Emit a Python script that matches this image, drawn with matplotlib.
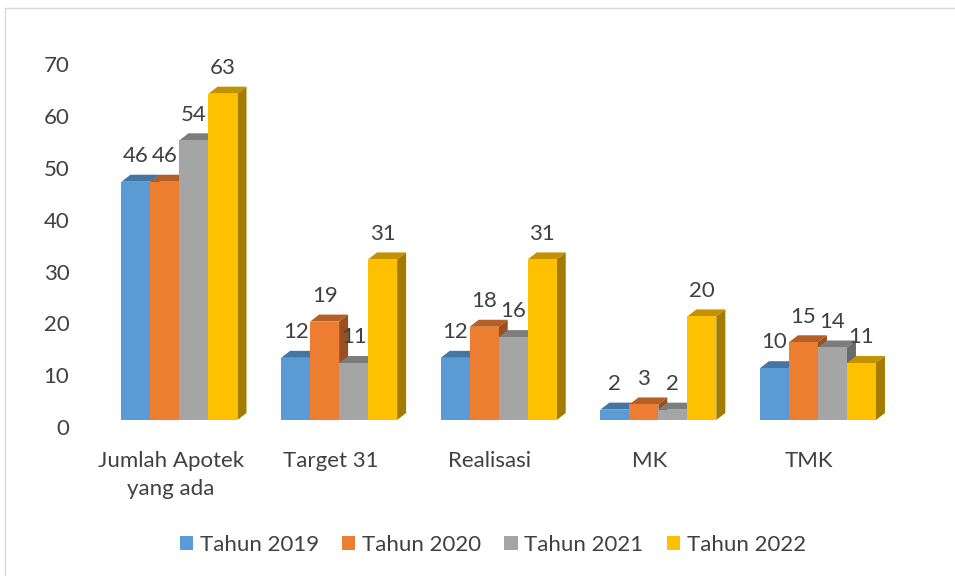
import matplotlib.pyplot as plt
import matplotlib.transforms as mtransforms
from matplotlib.patches import Polygon, Patch, Rectangle
import numpy as np

plt.rcParams['font.family'] = ['Lato', 'DejaVu Sans']

categories = ['Jumlah Apotek\nyang ada', 'Target 31', 'Realisasi', 'MK', 'TMK']
series = ['Tahun 2019', 'Tahun 2020', 'Tahun 2021', 'Tahun 2022']
tahun_2019 = [46, 12, 12, 2, 10]
tahun_2020 = [46, 19, 18, 3, 15]
tahun_2021 = [54, 11, 16, 2, 14]
tahun_2022 = [63, 31, 31, 20, 11]
values = [tahun_2019, tahun_2020, tahun_2021, tahun_2022]
colors = ['#5B9BD5', '#ED7D31', '#A5A5A5', '#FFC000']
text_color = '#404040'


def shade(c, f):
    r, g, b = [int(c[i:i + 2], 16) / 255 for i in (1, 3, 5)]
    return (r * f, g * f, b * f)


W, H = 955, 576
fig = plt.figure(figsize=(W / 100, H / 100), dpi=100)
# axes placed so the front faces of the bars sit on the baseline
ax = fig.add_axes([100 / W, (H - 420) / H, 800 / W, 362.6 / H])
ax.set_xlim(-0.498, 4.514)
ax.set_ylim(0, 70)

bw = 0.1817          # bar width (group units)
ddx = 9 / 159.6      # depth offset in x
ddy = 7 / 5.18       # depth offset in y

for i in range(len(categories)):
    for s in range(len(series)):
        v = values[s][i]
        x0 = i + (s - 2) * bw
        x1 = x0 + bw
        c = colors[s]
        top = Polygon([(x0, v), (x1, v), (x1 + ddx, v + ddy), (x0 + ddx, v + ddy)],
                      closed=True, facecolor=shade(c, 0.76), edgecolor='none', zorder=2)
        side = Polygon([(x1, 0), (x1 + ddx, ddy), (x1 + ddx, v + ddy), (x1, v)],
                       closed=True, facecolor=shade(c, 0.64), edgecolor='none', zorder=2)
        front = Rectangle((x0, 0), bw, v, facecolor=c, edgecolor='none', zorder=2)
        ax.add_patch(top)
        ax.add_patch(side)
        ax.add_patch(front)
        ax.annotate(str(v), xy=(x0 + bw / 2, v + ddy), xytext=(0, 13.5),
                    textcoords='offset points', ha='center', va='center',
                    fontsize=16, color=text_color, zorder=3)
    ax.text(i - 0.055, -5.9, categories[i], ha='center', va='top', fontsize=16,
            color=text_color, linespacing=1.5, clip_on=False)

ax.set_xticks([])
ax.set_yticks(np.arange(0, 71, 10))
ax.tick_params(axis='y', length=0, pad=22, labelsize=16, labelcolor=text_color)
shift = mtransforms.ScaledTranslation(0, -7 / 100, fig.dpi_scale_trans)
for lab in ax.get_yticklabels():
    lab.set_transform(lab.get_transform() + shift)
for sp in ax.spines.values():
    sp.set_visible(False)

handles = [Patch(facecolor=c, edgecolor='none') for c in colors]
fig.legend(handles, series, loc='center', bbox_to_anchor=(0.516, 0.054), ncol=4,
           frameon=False, fontsize=16, handlelength=0.6, handleheight=0.6,
           handletextpad=0.3, columnspacing=1.05, labelcolor=text_color)

fig.patches.append(Rectangle((4.5 / W, -0.1), 1.2, (H - 7.5) / H + 0.1,
                             transform=fig.transFigure, fill=False,
                             edgecolor='#D9D9D9', lw=1))

fig.savefig('out.png', dpi=100)
